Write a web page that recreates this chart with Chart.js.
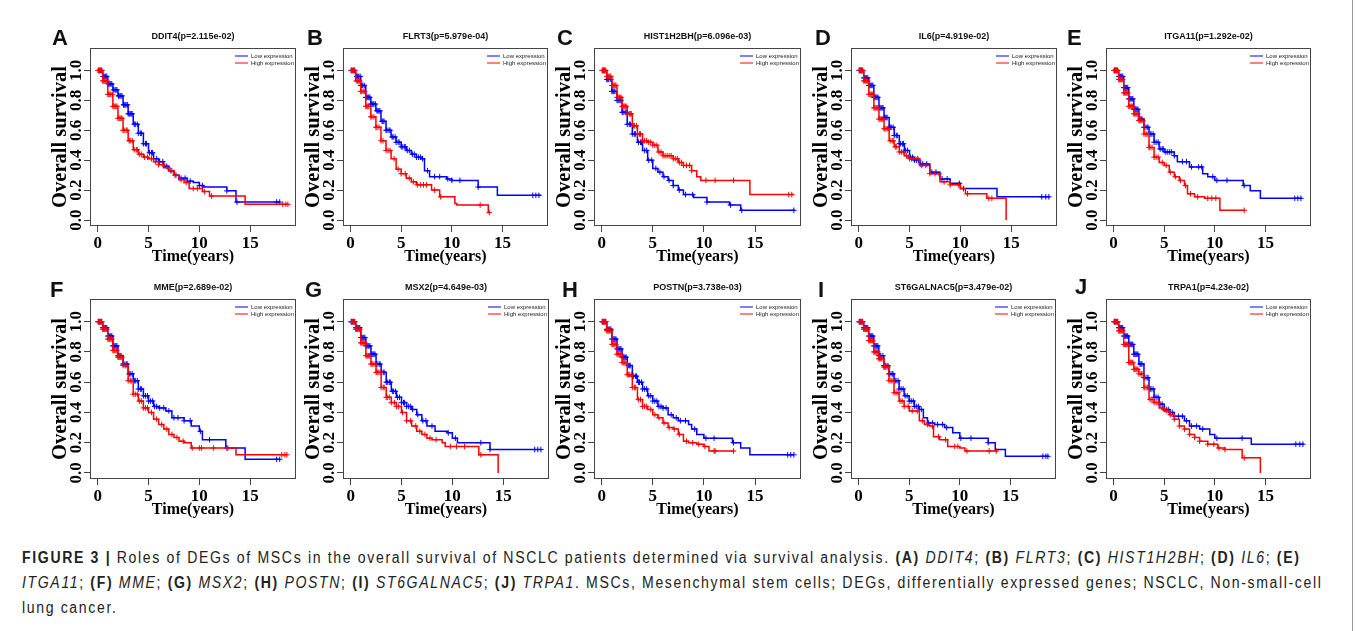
<!DOCTYPE html>
<html>
<head>
<meta charset="utf-8">
<script src="https://cdn.jsdelivr.net/npm/chart.js@4.4.0/dist/chart.umd.min.js"></script>
<style>
  html, body { margin: 0; padding: 0; background: #fff; }
  body { width: 1356px; height: 631px; position: relative; overflow: hidden; font-family: "Liberation Sans", Arial, sans-serif; }
  .letra { position: absolute; font: bold 22px/1 "Liberation Sans", Arial, sans-serif; color: #111; }
  .linea { position: absolute; left: 22px; white-space: nowrap; font-family: "Liberation Sans", Arial, sans-serif; font-size: 16px; line-height: 16px; color: #222; transform-origin: 0 0; }
  #marco { position: absolute; left: 1352px; top: 0; width: 1px; height: 631px; background: #999; }
</style>
</head>
<body>
<div id="marco"></div>

<div class="linea" id="linea1" data-ancho="1278" style="top:550px"><b>FIGURE 3 | </b>Roles of DEGs of MSCs in the overall survival of NSCLC patients determined via survival analysis. <b>(A)</b> <i>DDIT4</i>; <b>(B)</b> <i>FLRT3</i>; <b>(C)</b> <i>HIST1H2BH</i>; <b>(D)</b> <i>IL6</i>; <b>(E)</b></div>
<div class="linea" id="linea2" data-ancho="1300" style="top:575px"><i>ITGA11</i>; <b>(F)</b> <i>MME</i>; <b>(G)</b> <i>MSX2</i>; <b>(H)</b> <i>POSTN</i>; <b>(I)</b> <i>ST6GALNAC5</i>; <b>(J)</b> <i>TRPA1</i>. MSCs, Mesenchymal stem cells; DEGs, differentially expressed genes; NSCLC, Non-small-cell</div>
<div class="linea" id="linea3" style="top:600px">lung cancer.</div>

<script>
// ---------- datos (leidos a ojo de la figura) ----------
const genes = ["DDIT4", "FLRT3", "HIST1H2BH", "IL6", "ITGA11", "MME", "MSX2", "POSTN", "ST6GALNAC5", "TRPA1"];
const pValores = ["2.115e-02", "5.979e-04", "6.096e-03", "4.919e-02", "1.292e-02", "2.689e-02", "4.649e-03", "3.738e-03", "3.479e-02", "4.23e-02"];
const letras = ["A", "B", "C", "D", "E", "F", "G", "H", "I", "J"];
const xTicks = [0, 5, 10, 15];
const yTicks = [0, 0.2, 0.4, 0.6, 0.8, 1.0];

// curvas [tiempo, supervivencia] y censuras (tiempos)
const ddit4Low = [[0,1],[0.5,0.96],[1,0.91],[1.5,0.87],[2,0.83],[2.5,0.77],[3,0.71],[3.5,0.64],[4,0.58],[4.5,0.51],[5,0.45],[5.5,0.41],[6,0.39],[6.5,0.36],[7,0.33],[7.5,0.3],[8,0.28],[8.8,0.26],[9.4,0.25],[10,0.23],[10.4,0.22],[12.7,0.195],[13.6,0.12],[17.9,0.12]];
const ddit4High = [[0,1],[0.5,0.93],[1,0.84],[1.5,0.76],[2,0.68],[2.5,0.6],[3,0.53],[3.5,0.47],[4,0.44],[4.5,0.42],[5,0.41],[5.5,0.39],[6,0.37],[6.5,0.35],[7,0.33],[7.5,0.3],[8,0.27],[8.5,0.25],[9,0.21],[10.3,0.19],[11,0.16],[14.5,0.105],[18.7,0.105]];
const ddit4LowCens = [0.05,0.2,0.3,0.4,0.55,0.7,0.8,0.9,1.05,1.1,1.2,1.3,1.4,1.55,1.7,1.8,1.9,2.05,2.1,2.2,2.3,2.4,2.55,2.6,2.7,2.8,2.95,3.0,3.1,3.2,3.3,3.4,3.6,3.7,3.9,4.0,4.2,4.3,4.5,4.7,4.8,5.1,5.3,5.4,5.8,6.1,6.4,6.8,7.2,7.7,8.2,8.6,9.1,10.0,10.3,12.7,13.7,17.6,17.9];
const ddit4HighCens = [0.1,0.15,0.3,0.4,0.5,0.6,0.7,0.8,0.9,1.0,1.1,1.2,1.3,1.45,1.5,1.6,1.7,1.8,1.9,2.0,2.1,2.2,2.3,2.4,2.5,2.6,2.8,2.9,3.1,3.2,3.4,3.6,3.8,3.9,4.1,4.3,4.6,4.9,5.3,5.7,6.0,6.4,6.9,7.3,7.6,8.2,8.7,9.4,9.8,10.5,11.2,18.2,18.5,18.7];

const flrt3Low = [[0,1],[0.5,0.96],[1,0.9],[1.5,0.82],[2,0.775],[2.5,0.73],[3,0.66],[3.5,0.6],[4,0.555],[4.5,0.52],[5,0.49],[5.5,0.465],[6,0.44],[6.5,0.42],[7,0.41],[7.3,0.33],[7.8,0.29],[9.5,0.275],[10,0.265],[12.6,0.22],[14.5,0.165],[18.8,0.165]];
const flrt3High = [[0,1],[0.5,0.93],[1,0.86],[1.5,0.76],[2,0.69],[2.5,0.62],[3,0.53],[3.5,0.465],[4,0.41],[4.5,0.34],[5,0.31],[5.5,0.28],[6,0.255],[6.5,0.235],[8,0.2],[8.8,0.155],[10.3,0.11],[10.5,0.1],[13.6,0.05],[13.7,0.05]];
const flrt3LowCens = [0.05,0.15,0.3,0.4,0.6,0.7,0.8,0.95,1.0,1.1,1.2,1.35,1.5,1.6,1.7,1.8,1.9,2.0,2.1,2.2,2.3,2.45,2.6,2.7,2.8,2.9,3.1,3.2,3.3,3.5,3.6,3.8,3.9,4.1,4.2,4.4,4.5,4.7,4.8,5.0,5.1,5.3,5.4,5.6,5.8,6.1,6.3,6.5,6.7,6.9,7.1,7.6,8.3,8.8,9.6,10.0,10.8,12.6,18.0,18.3,18.6];
const flrt3HighCens = [0.1,0.2,0.3,0.4,0.55,0.7,0.8,0.9,1.0,1.1,1.25,1.4,1.5,1.6,1.7,1.8,2.0,2.1,2.3,2.5,2.6,2.8,3.0,3.2,3.5,3.7,3.9,4.3,4.7,5.0,5.4,5.8,6.2,6.6,6.9,7.2,7.5,8.3,8.9,12.8,13.7];

const hist1Low = [[0,1],[0.5,0.94],[1,0.86],[1.5,0.8],[2,0.72],[2.5,0.64],[3,0.575],[3.5,0.52],[4,0.465],[4.5,0.4],[5,0.345],[5.5,0.32],[6,0.29],[6.5,0.265],[7,0.23],[7.5,0.2],[8,0.17],[9,0.15],[10.3,0.12],[12.5,0.1],[13.6,0.065],[18.9,0.065]];
const hist1High = [[0,1],[0.5,0.96],[1,0.9],[1.5,0.82],[2,0.76],[2.5,0.71],[3,0.63],[3.5,0.575],[4,0.53],[4.5,0.52],[5,0.5],[5.5,0.455],[6,0.43],[7,0.41],[7.5,0.385],[8,0.365],[8.8,0.33],[9.3,0.29],[9.7,0.265],[14.5,0.17],[18.8,0.17]];
const hist1LowCens = [0.1,0.2,0.3,0.5,0.6,0.7,0.9,1.0,1.1,1.2,1.3,1.5,1.6,1.7,1.8,1.9,2.0,2.1,2.3,2.4,2.5,2.7,2.8,3.0,3.2,3.3,3.6,3.8,3.9,4.2,4.4,4.6,4.9,5.3,5.7,6.1,6.6,7.0,7.6,8.2,8.9,10.3,12.6,13.7,18.8];
const hist1HighCens = [0.05,0.1,0.2,0.3,0.4,0.5,0.6,0.7,0.8,0.9,1.0,1.1,1.2,1.3,1.4,1.5,1.6,1.7,1.8,1.9,2.0,2.1,2.2,2.3,2.4,2.5,2.7,2.8,2.9,3.1,3.2,3.4,3.5,3.7,3.8,4.0,4.2,4.4,4.6,4.8,5.0,5.2,5.4,5.6,5.8,6.0,6.2,6.4,6.6,6.8,7.0,7.2,7.4,7.6,7.8,8.0,8.3,8.6,8.8,10.2,11.1,12.9,18.3,18.6];

const il6Low = [[0,1],[0.5,0.95],[1,0.9],[1.5,0.82],[2,0.75],[2.5,0.685],[3,0.62],[3.5,0.565],[4,0.51],[4.5,0.465],[5,0.42],[5.5,0.4],[6,0.375],[7,0.32],[8,0.275],[9,0.245],[10,0.21],[13.6,0.155],[18.8,0.155]];
const il6High = [[0,1],[0.5,0.93],[1,0.84],[1.5,0.75],[2,0.675],[2.5,0.61],[3,0.53],[3.5,0.49],[4,0.455],[4.5,0.43],[5,0.41],[6,0.365],[7,0.31],[8,0.255],[9,0.235],[10,0.21],[10.5,0.175],[12.6,0.145],[14.5,0]];
const il6LowCens = [0.05,0.1,0.2,0.3,0.4,0.5,0.6,0.7,0.8,0.9,1.0,1.1,1.2,1.3,1.4,1.5,1.6,1.7,1.8,1.9,2.0,2.1,2.2,2.3,2.4,2.5,2.6,2.7,2.8,3.0,3.1,3.2,3.4,3.5,3.7,3.8,4.0,4.1,4.3,4.4,4.6,4.8,5.0,5.1,5.3,5.5,5.7,5.9,6.1,6.3,6.7,7.2,7.6,8.2,8.7,9.9,10.3,18.0,18.4,18.7];
const il6HighCens = [0.1,0.15,0.2,0.3,0.4,0.5,0.6,0.7,0.8,0.9,1.0,1.1,1.2,1.3,1.4,1.5,1.6,1.7,1.8,1.9,2.0,2.1,2.2,2.3,2.4,2.5,2.6,2.8,2.9,3.1,3.3,3.4,3.6,3.7,4.0,4.2,4.4,4.7,5.0,5.2,5.4,5.8,6.2,6.6,7.0,7.5,7.9,8.4,9.0,9.8,10.7,12.8,13.1];

const itga11Low = [[0,1],[0.5,0.96],[1,0.885],[1.5,0.81],[2,0.74],[2.5,0.675],[3,0.62],[3.5,0.575],[4,0.52],[4.5,0.475],[5,0.455],[6,0.43],[6.3,0.39],[7.5,0.355],[8.8,0.31],[9.3,0.29],[10,0.265],[12.8,0.23],[13.5,0.195],[14.5,0.145],[18.6,0.145]];
const itga11High = [[0,1],[0.5,0.94],[1,0.85],[1.5,0.76],[2,0.71],[2.5,0.665],[3,0.575],[3.5,0.485],[4,0.42],[4.5,0.385],[5,0.365],[5.5,0.32],[6,0.29],[6.5,0.265],[7,0.23],[7.3,0.175],[8,0.155],[9,0.145],[10.5,0.065],[12.9,0.065]];
const itga11LowCens = [0.05,0.1,0.2,0.3,0.4,0.5,0.6,0.7,0.8,0.9,1.0,1.1,1.2,1.3,1.4,1.5,1.6,1.7,1.8,1.9,2.0,2.1,2.2,2.3,2.4,2.6,2.7,2.8,3.0,3.1,3.3,3.4,3.6,3.7,3.9,4.0,4.2,4.4,4.6,4.8,4.9,5.1,5.3,5.5,5.7,6.0,6.8,7.2,7.7,8.4,8.7,9.8,10.2,11.2,12.9,17.9,18.2,18.5];
const itga11HighCens = [0.1,0.15,0.2,0.3,0.4,0.5,0.6,0.7,0.8,0.9,1.0,1.1,1.2,1.3,1.4,1.5,1.6,1.7,1.8,1.9,2.0,2.1,2.2,2.3,2.4,2.5,2.6,2.7,2.9,3.0,3.2,3.3,3.5,3.6,3.8,4.0,4.2,4.4,4.8,5.2,5.6,6.1,6.6,7.1,7.6,8.3,9.3,9.7,10.1,12.9];

const mmeLow = [[0,1],[0.5,0.96],[1,0.905],[1.5,0.84],[2,0.775],[2.5,0.72],[3,0.655],[3.5,0.61],[4,0.555],[4.5,0.51],[5,0.475],[5.5,0.44],[6,0.43],[6.7,0.41],[7.3,0.365],[8.5,0.345],[9.2,0.31],[10,0.275],[10.3,0.22],[12.6,0.165],[14.5,0.09],[17.9,0.09]];
const mmeHigh = [[0,1],[0.5,0.95],[1,0.885],[1.5,0.81],[2,0.765],[2.5,0.71],[3,0.61],[3.5,0.52],[4,0.475],[4.5,0.43],[5,0.4],[5.5,0.355],[6,0.32],[6.5,0.29],[7,0.255],[7.5,0.235],[8,0.21],[8.5,0.2],[9.2,0.165],[13.6,0.12],[18.6,0.12]];
const mmeLowCens = [0.05,0.1,0.2,0.3,0.4,0.5,0.6,0.7,0.8,0.9,1.0,1.1,1.2,1.3,1.4,1.5,1.6,1.7,1.8,1.9,2.0,2.1,2.2,2.3,2.5,2.6,2.8,2.9,3.1,3.2,3.4,3.6,3.7,3.9,4.0,4.2,4.3,4.5,4.7,4.9,5.0,5.2,5.4,5.6,5.8,6.1,6.5,7.0,7.5,7.9,8.5,9.1,10.1,11.0,12.7,17.6,17.9];
const mmeHighCens = [0.1,0.15,0.2,0.3,0.4,0.5,0.6,0.7,0.8,0.9,1.0,1.1,1.2,1.3,1.4,1.5,1.6,1.7,1.8,1.9,2.0,2.1,2.2,2.3,2.4,2.5,2.7,2.8,3.0,3.2,3.3,3.5,3.7,3.9,4.1,4.3,4.5,4.7,4.9,5.3,5.8,6.3,6.8,7.3,7.8,8.4,9.3,10.0,10.2,11.4,12.8,18.1,18.4,18.6];

const msx2Low = [[0,1],[0.5,0.96],[1,0.895],[1.5,0.84],[2,0.785],[2.5,0.72],[3,0.665],[3.5,0.6],[4,0.54],[4.5,0.5],[5,0.465],[5.5,0.44],[6,0.42],[6.5,0.385],[7,0.345],[7.5,0.31],[8.3,0.275],[9.5,0.265],[10,0.23],[10.5,0.2],[13.7,0.155],[18.8,0.155]];
const msx2High = [[0,1],[0.5,0.95],[1,0.86],[1.5,0.775],[2,0.72],[2.5,0.665],[3,0.565],[3.5,0.5],[4,0.465],[4.5,0.44],[5,0.4],[5.5,0.345],[6,0.31],[6.5,0.275],[7,0.255],[7.5,0.23],[8,0.22],[9,0.2],[9.3,0.175],[12.6,0.12],[14.5,0]];
const msx2LowCens = [0.05,0.1,0.2,0.3,0.4,0.5,0.6,0.7,0.8,0.9,1.0,1.1,1.2,1.3,1.4,1.5,1.6,1.7,1.8,1.9,2.0,2.1,2.2,2.3,2.4,2.5,2.6,2.8,2.9,3.0,3.2,3.3,3.5,3.6,3.8,3.9,4.1,4.2,4.4,4.6,4.8,5.0,5.2,5.3,5.5,5.7,5.9,6.1,6.6,7.1,7.4,8.0,9.6,10.3,12.8,13.7,18.1,18.4,18.7];
const msx2HighCens = [0.1,0.15,0.2,0.3,0.4,0.5,0.6,0.7,0.8,0.9,1.0,1.1,1.2,1.3,1.4,1.5,1.6,1.7,1.8,1.9,2.0,2.1,2.2,2.4,2.5,2.6,2.7,2.9,3.0,3.2,3.3,3.5,3.6,3.8,4.0,4.3,4.5,4.7,5.1,5.5,5.9,6.4,6.8,7.3,7.8,8.4,9.8,10.4,11.2,12.8];

const postnLow = [[0,1],[0.5,0.95],[1,0.885],[1.5,0.82],[2,0.765],[2.5,0.71],[3,0.64],[3.5,0.6],[4,0.555],[4.5,0.51],[5,0.475],[5.5,0.44],[6,0.43],[6.5,0.385],[7,0.365],[7.5,0.345],[8.5,0.32],[8.8,0.29],[9.3,0.255],[10,0.23],[12.8,0.2],[13.6,0.165],[14.5,0.12],[18.8,0.12]];
const postnHigh = [[0,1],[0.5,0.94],[1,0.85],[1.5,0.785],[2,0.73],[2.5,0.65],[3,0.565],[3.5,0.485],[4,0.44],[4.5,0.42],[5,0.385],[5.5,0.365],[6,0.33],[6.5,0.3],[7,0.29],[7.5,0.255],[8,0.21],[8.5,0.2],[9.3,0.19],[10,0.175],[10.5,0.145],[13,0.145]];
const postnLowCens = [0.05,0.1,0.2,0.3,0.4,0.5,0.6,0.7,0.8,0.9,1.0,1.1,1.2,1.3,1.4,1.5,1.6,1.7,1.8,1.9,2.0,2.1,2.2,2.3,2.4,2.6,2.7,2.8,3.0,3.1,3.3,3.4,3.6,3.7,3.9,4.0,4.2,4.4,4.6,4.8,5.0,5.2,5.4,5.6,5.8,6.0,6.3,6.8,7.3,7.7,8.2,9.1,10.2,11.0,12.9,18.2,18.5,18.8];
const postnHighCens = [0.1,0.15,0.2,0.3,0.4,0.5,0.6,0.7,0.8,0.9,1.0,1.1,1.2,1.3,1.4,1.5,1.6,1.7,1.8,1.9,2.0,2.1,2.2,2.3,2.5,2.6,2.7,2.9,3.0,3.2,3.3,3.6,3.8,4.0,4.2,4.4,4.8,5.2,5.6,6.1,6.6,7.1,7.6,8.3,8.9,9.5,10.1,11.0,11.1,12.9];

const st6Low = [[0,1],[0.5,0.96],[1,0.905],[1.5,0.84],[2,0.775],[2.5,0.71],[3,0.655],[3.5,0.61],[4,0.555],[4.5,0.51],[5,0.475],[5.5,0.44],[6,0.42],[6.4,0.365],[6.8,0.33],[7.5,0.32],[8.5,0.3],[9.3,0.265],[10,0.23],[12.8,0.2],[13.5,0.155],[14.5,0.11],[18.8,0.11]];
const st6High = [[0,1],[0.5,0.95],[1,0.875],[1.5,0.8],[2,0.755],[2.5,0.7],[3,0.61],[3.5,0.53],[4,0.475],[4.5,0.44],[5,0.41],[6,0.345],[6.5,0.32],[7,0.31],[7.4,0.24],[8,0.22],[8.8,0.175],[10,0.165],[10.5,0.145],[13.7,0.145]];
const st6LowCens = [0.05,0.1,0.2,0.3,0.4,0.5,0.6,0.7,0.8,0.9,1.0,1.1,1.2,1.3,1.4,1.5,1.6,1.7,1.8,1.9,2.0,2.1,2.2,2.4,2.5,2.6,2.7,2.9,3.0,3.1,3.3,3.4,3.6,3.7,3.9,4.0,4.2,4.4,4.6,4.8,5.0,5.2,5.4,5.5,5.7,5.9,6.2,6.9,7.3,7.8,8.3,8.7,10.1,11.1,12.8,18.2,18.5,18.7];
const st6HighCens = [0.1,0.15,0.2,0.3,0.4,0.5,0.6,0.7,0.8,0.9,1.0,1.1,1.2,1.3,1.4,1.5,1.6,1.7,1.8,1.9,2.0,2.1,2.2,2.3,2.5,2.6,2.7,2.9,3.0,3.2,3.3,3.5,3.7,3.9,4.1,4.3,4.5,4.9,5.3,5.8,6.3,6.8,7.3,7.9,8.6,9.5,9.8,10.7,12.9,13.6];

const trpa1Low = [[0,1],[0.5,0.96],[1,0.905],[1.5,0.85],[2,0.785],[2.5,0.72],[3,0.63],[3.5,0.555],[4,0.5],[4.5,0.455],[5,0.42],[5.5,0.4],[6,0.375],[7,0.345],[7.5,0.31],[8.5,0.29],[9.5,0.255],[10,0.23],[13.6,0.19],[18.8,0.19]];
const trpa1High = [[0,1],[0.5,0.94],[1,0.85],[1.5,0.73],[2,0.685],[2.5,0.655],[3,0.565],[3.5,0.485],[4,0.465],[4.5,0.43],[5,0.41],[5.5,0.385],[6,0.355],[6.5,0.31],[7,0.29],[7.5,0.255],[8,0.235],[8.5,0.21],[9.3,0.19],[10.3,0.165],[11,0.155],[12.7,0.1],[14.5,0]];
const trpa1LowCens = [0.05,0.1,0.2,0.3,0.4,0.5,0.6,0.7,0.8,0.9,1.0,1.1,1.2,1.3,1.4,1.5,1.6,1.7,1.8,1.9,2.0,2.1,2.2,2.3,2.4,2.6,2.7,2.8,3.0,3.1,3.3,3.4,3.6,3.7,3.9,4.0,4.2,4.4,4.6,4.8,5.0,5.2,5.4,5.6,5.8,6.0,6.4,6.8,7.2,7.7,8.2,8.8,10.2,12.7,18.0,18.4,18.7];
const trpa1HighCens = [0.1,0.15,0.2,0.3,0.4,0.5,0.6,0.7,0.8,0.9,1.0,1.1,1.2,1.3,1.4,1.5,1.6,1.7,1.8,1.9,2.0,2.1,2.2,2.3,2.4,2.5,2.7,2.8,3.0,3.1,3.3,3.4,3.6,3.8,4.0,4.2,4.4,4.8,5.2,5.6,6.0,6.5,7.0,7.5,8.0,8.5,9.3,9.9,10.4,11.0,12.9];

const curvasLow = [ddit4Low, flrt3Low, hist1Low, il6Low, itga11Low, mmeLow, msx2Low, postnLow, st6Low, trpa1Low];
const curvasHigh = [ddit4High, flrt3High, hist1High, il6High, itga11High, mmeHigh, msx2High, postnHigh, st6High, trpa1High];
const censLow = [ddit4LowCens, flrt3LowCens, hist1LowCens, il6LowCens, itga11LowCens, mmeLowCens, msx2LowCens, postnLowCens, st6LowCens, trpa1LowCens];
const censHigh = [ddit4HighCens, flrt3HighCens, hist1HighCens, il6HighCens, itga11HighCens, mmeHighCens, msx2HighCens, postnHighCens, st6HighCens, trpa1HighCens];

// ---------- posiciones de los paneles (caja del grafico) ----------
const cajaIzq = [90, 343, 594, 851, 1106, 90, 343, 594, 851, 1106];
const cajaAncho = [206, 205, 207, 206, 205, 206, 206, 207, 205, 205];
const filaArriba = [48, 299];
const filaAlto = [178, 180];
const letraPos = [[52, 27], [307, 27], [557, 27], [815, 27], [1067, 27], [50, 279], [305, 279], [562, 279], [818, 279], [1075, 276]];

const AZUL = "#0000ff";
const ROJO = "#ff0000";
const SERIF = "'Liberation Serif', 'Times New Roman', serif";
const SANS = "'Liberation Sans', Arial, sans-serif";

// valor de la curva en un tiempo dado (escalon)
function supervivenciaEn(curva, t) {
  let s = curva[0][1];
  for (const [x, y] of curva) {
    if (x <= t) s = y; else break;
  }
  return s;
}

// caja completa alrededor del area del grafico
const marcoPlugin = {
  id: "marco",
  beforeDatasetsDraw(chart) {
    const { ctx, chartArea: a } = chart;
    ctx.save();
    ctx.strokeStyle = "#444";
    ctx.lineWidth = 1;
    ctx.strokeRect(Math.round(a.left) + 0.5, Math.round(a.top) + 0.5, Math.round(a.width) - 1, Math.round(a.height) - 1);
    ctx.restore();
  }
};

// etiquetas del eje y giradas (como en R)
const ejeYPlugin = {
  id: "ejeY",
  afterDraw(chart) {
    const { ctx, chartArea: a } = chart;
    const s = chart.scales.y;
    ctx.save();
    ctx.font = "bold 17px " + SERIF;
    ctx.fillStyle = "#000";
    ctx.textAlign = "center";
    ctx.textBaseline = "middle";
    s.ticks.forEach(t => {
      const y = s.getPixelForValue(t.value);
      ctx.save();
      ctx.translate(a.left - 13, y);
      ctx.rotate(-Math.PI / 2);
      ctx.fillText(t.value.toFixed(1), 0, 0);
      ctx.restore();
    });
    ctx.restore();
  }
};

// leyenda dentro del grafico, arriba a la derecha
const leyendaPlugin = {
  id: "leyendaDentro",
  afterDraw(chart) {
    const { ctx, chartArea: a } = chart;
    const items = chart.data.datasets.filter(d => d.label.endsWith("expression"));
    items.sort((p, q) => (p.label < q.label ? 1 : -1)); // Low primero
    ctx.save();
    ctx.font = "6px " + SANS;
    ctx.textBaseline = "middle";
    items.forEach((d, i) => {
      const y = a.top + 8 + i * 7;
      ctx.strokeStyle = d.borderColor;
      ctx.lineWidth = 1;
      ctx.beginPath();
      ctx.moveTo(a.right - 61, y);
      ctx.lineTo(a.right - 48, y);
      ctx.stroke();
      ctx.fillStyle = "#222";
      ctx.fillText(d.label, a.right - 45, y);
    });
    ctx.restore();
  }
};

function crearPanel(i) {
  const fila = i < 5 ? 0 : 1;
  const izq = cajaIzq[i], arriba = filaArriba[fila];
  const W = cajaAncho[i] + 63, H = filaAlto[fila] + 68;

  const canvas = document.createElement("canvas");
  canvas.width = W;
  canvas.height = H;
  canvas.style.cssText = `position:absolute;left:${izq - 55}px;top:${arriba - 23}px;width:${W}px;height:${H}px`;
  document.body.appendChild(canvas);

  const letra = document.createElement("div");
  letra.className = "letra";
  letra.textContent = letras[i];
  letra.style.left = letraPos[i][0] + "px";
  letra.style.top = letraPos[i][1] + "px";
  document.body.appendChild(letra);

  const aPuntos = c => c.map(([x, y]) => ({ x, y }));
  const aCensuras = (curva, tiempos) => tiempos.map(t => ({ x: t, y: supervivenciaEn(curva, t) }));

  new Chart(canvas, {
    type: "line",
    data: {
      datasets: [
        { label: "High expression", data: aPuntos(curvasHigh[i]), borderColor: ROJO, borderWidth: 1.5, stepped: "before", pointRadius: 0, fill: false, order: 1 },
        { label: "High censuras", type: "scatter", data: aCensuras(curvasHigh[i], censHigh[i]), pointStyle: "cross", pointRadius: 2.8, borderColor: ROJO, borderWidth: 1, showLine: false, order: 1 },
        { label: "Low expression", data: aPuntos(curvasLow[i]), borderColor: AZUL, borderWidth: 1.5, stepped: "before", pointRadius: 0, fill: false, order: 2 },
        { label: "Low censuras", type: "scatter", data: aCensuras(curvasLow[i], censLow[i]), pointStyle: "cross", pointRadius: 2.8, borderColor: AZUL, borderWidth: 1, showLine: false, order: 2 }
      ]
    },
    options: {
      responsive: false,
      animation: false,
      devicePixelRatio: 1,
      layout: { padding: { left: 0, right: 8, top: 0, bottom: 0 } },
      plugins: {
        legend: { display: false },
        tooltip: { enabled: false },
        title: {
          display: true,
          text: genes[i] + "(p=" + pValores[i] + ")",
          fullSize: false,
          color: "#111",
          font: { family: SANS, size: 9, weight: "bold", lineHeight: 1 },
          padding: { top: 7, bottom: 7 }
        }
      },
      scales: {
        x: {
          type: "linear",
          min: -0.75,
          max: 19.5,
          afterBuildTicks: s => { s.ticks = xTicks.map(v => ({ value: v })); },
          afterFit: s => { s.height = 45; },
          grid: { display: true, drawOnChartArea: false, drawTicks: true, tickLength: 6, color: "#444" },
          border: { display: false },
          ticks: { font: { family: SERIF, size: 17, weight: "bold" }, color: "#000", padding: 1, maxRotation: 0, autoSkip: false },
          title: { display: true, text: "Time(years)", color: "#000", font: { family: SERIF, size: 16, weight: "bold" }, padding: { top: 0, bottom: 5 } }
        },
        y: {
          type: "linear",
          min: -0.04,
          max: 1.15,
          afterBuildTicks: s => { s.ticks = yTicks.map(v => ({ value: v })); },
          afterFit: s => { s.width = 55; },
          grid: { display: true, drawOnChartArea: false, drawTicks: true, tickLength: 6, color: "#444" },
          border: { display: false },
          ticks: { color: "rgba(0,0,0,0)", autoSkip: false },
          title: { display: true, text: "Overall survival", color: "#000", font: { family: SERIF, size: 20.5, weight: "bold" }, padding: { top: 13, bottom: 0 } }
        }
      }
    },
    plugins: [marcoPlugin, ejeYPlugin, leyendaPlugin]
  });
}

for (let i = 0; i < genes.length; i++) crearPanel(i);

// pie de figura: letras estrechas (escala horizontal) y espaciado para llegar al ancho
const ESTRECHO = 0.88;
let espaciado2 = 0;
document.querySelectorAll(".linea").forEach(el => {
  const objetivo = parseFloat(el.dataset.ancho || "0");
  el.style.transform = `scaleX(${ESTRECHO})`;
  if (!objetivo) return;
  const natural = el.scrollWidth;
  const n = el.textContent.length;
  const ls = (objetivo / ESTRECHO - natural) / n;
  el.style.letterSpacing = ls + "px";
  if (el.id === "linea2") espaciado2 = ls;
});
document.getElementById("linea3").style.letterSpacing = espaciado2 + "px";
</script>
</body>
</html>
